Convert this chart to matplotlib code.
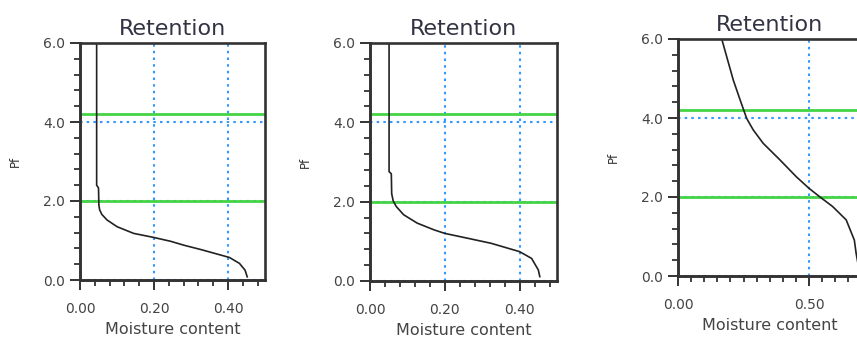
import matplotlib
matplotlib.use("Agg")
import matplotlib.pyplot as plt
from matplotlib.ticker import MultipleLocator, FormatStrFormatter

plt.rcParams['font.family'] = ['DejaVu Sans']

# ── Retention curves (moisture content vs pF) ─────────────────────────────────
theta_a = [0.045, 0.045, 0.050, 0.051, 0.053, 0.059, 0.073, 0.100, 0.145, 0.198,
           0.245, 0.281, 0.327, 0.354, 0.404, 0.431, 0.446, 0.452]
pf_a    = [6.00, 2.40, 2.33, 1.90, 1.78, 1.66, 1.52, 1.35, 1.18, 1.08,
           0.98, 0.88, 0.77, 0.70, 0.57, 0.42, 0.25, 0.08]

theta_b = [0.051, 0.051, 0.057, 0.058, 0.062, 0.070, 0.090, 0.126, 0.171, 0.200,
           0.260, 0.324, 0.400, 0.432, 0.450, 0.454]
pf_b    = [6.00, 2.76, 2.70, 2.20, 2.02, 1.88, 1.67, 1.46, 1.29, 1.20,
           1.08, 0.95, 0.74, 0.57, 0.28, 0.11]

theta_c = [0.167, 0.186, 0.211, 0.237, 0.262, 0.287, 0.325, 0.389, 0.452,
           0.500, 0.540, 0.590, 0.642, 0.673, 0.680, 0.690]
pf_c    = [6.00, 5.55, 4.96, 4.46, 3.99, 3.70, 3.36, 2.94, 2.51,
           2.22, 2.01, 1.76, 1.42, 0.91, 0.57, 0.20]

# field capacity / wilting point
pf_marks = [2.0, 4.2]

panels = [
    # data, axes rect (fig fraction), xmax, x major, x minor
    (theta_a, pf_a, [80/857, 65/345, 185/857, 237/345], 0.5, 0.2, 0.04),
    (theta_b, pf_b, [370/857, 64/345, 187/857, 238/345], 0.5, 0.2, 0.04),
    (theta_c, pf_c, [678/857, 69/345, 183.4/857, 237/345], 0.7, 0.5, 0.05),
]

fig = plt.figure(figsize=(8.57, 3.45), dpi=100)

for th, pf, rect, xmax, xmaj, xmin in panels:
    ax = fig.add_axes(rect)
    ax.set_xlim(0, xmax)
    ax.set_ylim(0, 6)

    ax.grid(True, which='major', color='#3399ff', linewidth=1.5,
            linestyle=(0, (1.2, 2.0)), zorder=1)
    for p in pf_marks:
        ax.axhline(p, color='#44d444', linewidth=2.0, zorder=2)
    ax.plot(th, pf, color='#222222', linewidth=1.2, zorder=3)

    ax.xaxis.set_major_locator(MultipleLocator(xmaj))
    ax.xaxis.set_minor_locator(MultipleLocator(xmin))
    ax.yaxis.set_major_locator(MultipleLocator(2.0))
    ax.yaxis.set_minor_locator(MultipleLocator(0.4))
    ax.xaxis.set_major_formatter(FormatStrFormatter('%.2f'))
    ax.yaxis.set_major_formatter(FormatStrFormatter('%.1f'))

    ax.tick_params(which='major', direction='out', length=7, width=1.4,
                   color='#333333', labelsize=10, labelcolor='#444444')
    ax.tick_params(axis='x', which='major', pad=9)
    ax.tick_params(axis='y', which='major', pad=4)
    ax.tick_params(which='minor', direction='out', length=4.5, width=1.3,
                   color='#333333')
    # frame drawn over the edge gridlines
    for s in ax.spines.values():
        s.set_color('#333333')
        s.set_linewidth(1.9)
        s.set_zorder(4)
    ax.spines['left'].set_linewidth(2.1)
    ax.spines['bottom'].set_linewidth(2.1)

    ax.set_title('Retention', fontsize=16, color='#333344', pad=6)
    ax.set_xlabel('Moisture content', fontsize=11.5, color='#444444', labelpad=4)
    ax.set_ylabel('Pf', fontsize=8.5, color='#333333', labelpad=15)

fig.savefig('out.png', dpi=100)
